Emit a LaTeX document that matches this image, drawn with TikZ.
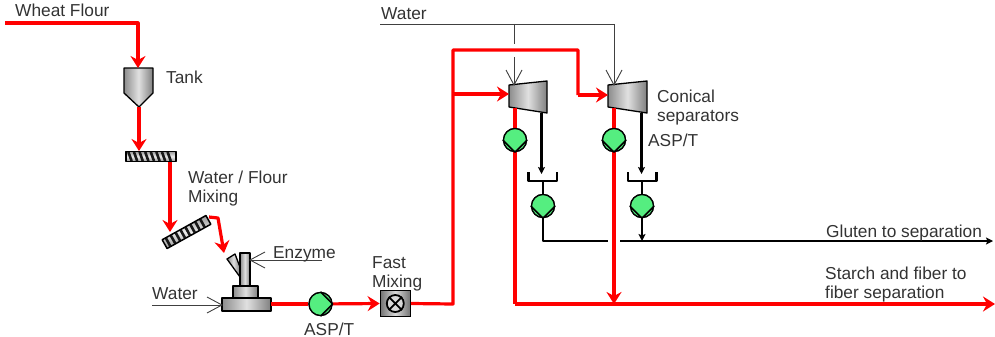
\documentclass[tikz,border=0pt]{standalone}
\usepackage{fontspec}
\setmainfont{Liberation Sans}
\usetikzlibrary{arrows.meta}
\definecolor{pumpgreen}{HTML}{55EE80}
\definecolor{txt}{HTML}{333333}
\definecolor{flow}{HTML}{FF0000}
\pgfdeclarearrow{
  name=OpenVee,
  setup code={\pgfarrowssettipend{0pt}\pgfarrowssetlineend{-0.6pt}\pgfarrowssetbackend{-15pt}\pgfarrowssetvisualbackend{-0.6pt}},
  drawing code={\pgfsetlinewidth{0.9pt}\pgfsetmiterjoin
    \pgfpathmoveto{\pgfpoint{-15pt}{8pt}}\pgfpathlineto{\pgfpointorigin}\pgfpathlineto{\pgfpoint{-15pt}{-8pt}}\pgfusepathqstroke}
}
\tikzset{
  x=1pt,y=-1pt,
  label text/.style={font=\fontsize{17.3}{19}\selectfont,text=txt,inner sep=0pt,anchor=base west,align=left},
  redline/.style={draw=flow,line width=3.2pt,line join=round},
  redarrow/.style={redline,-{Stealth[length=12pt,width=15pt,inset=4pt]}},
  blackline/.style={draw=black,line width=2.2pt,line join=round},
  blackarrow/.style={blackline,-{Stealth[length=7pt,width=7pt,inset=1.5pt]}},
  feed/.style={draw=black!75,line width=.9pt},
  feedarrow/.style={feed,-{OpenVee}},
  metal/.style={draw=black,line width=1.3pt,line join=round,left color=black!45,right color=black!50,middle color=black!12},
  pump/.style={circle,draw=black,fill=pumpgreen,minimum size=23pt,inner sep=0pt,line width=1.3pt},
  chevron/.style={draw=black,line width=1.6pt,line join=round},
  screwslant/.store in=\screwslant,
  screwslant=1.6,
  screwbody/.pic={
    \path[top color=black!40,bottom color=black!40,middle color=black!8] (-25,-5) rectangle (25,5);
    \foreach \i in {-21,-15.4,...,23}{\draw[line width=2.6pt,black!90] (\i-\screwslant,-4.5) -- (\i+\screwslant,4.5);}
    \draw[line width=1.5pt,line join=round] (-25,-5) rectangle (25,5);
  },
}
\begin{document}
\begin{tikzpicture}
\useasboundingbox (0,0) rectangle (995,337);
% named points
\coordinate (wheatstart) at (5,23);
\coordinate (wheatcorner) at (138,23);
\coordinate (tanktop) at (138,68);
\coordinate (tankbottom) at (139,107);
\coordinate (screwatop) at (139,151);
\coordinate (screwaout) at (170,162);
\coordinate (screwbin) at (170,232);
\coordinate (screwbout) at (209,217);
\coordinate (screwbcorner) at (218,218);
\coordinate (mixerin) at (224,253);
\coordinate (waterl) at (152,305);
\coordinate (mixerbase) at (222,305);
\coordinate (enzymestart) at (322,260);
\coordinate (mixercol) at (250,260);
\coordinate (mixerout) at (271,304);
\coordinate (mixedcorner) at (453,304);
\coordinate (hightop) at (453,50);
\coordinate (branch) at (453,94);
\coordinate (highright) at (578,50);
\coordinate (highdown) at (578,95);
\coordinate (sepain) at (509,94);
\coordinate (sepbin) at (608,95);
\coordinate (separed) at (515,108);
\coordinate (sepbred) at (614,108);
\coordinate (sepablack) at (541.5,113);
\coordinate (sepbblack) at (641.5,113);
\coordinate (cupatop) at (541.5,174);
\coordinate (cupbtop) at (641.5,174);
\coordinate (cupabot) at (543,181);
\coordinate (cupbbot) at (642,181);
\coordinate (glutenleft) at (543,241);
\coordinate (glutengapl) at (608,241);
\coordinate (glutengapr) at (620,241);
\coordinate (glutenjoin) at (642,241);
\coordinate (glutenend) at (993,241);
\coordinate (starchcorner) at (515,304);
\coordinate (starchmid) at (614,304);
\coordinate (starchend) at (995,304);
\coordinate (waterstart) at (380,24);
\coordinate (wateratee) at (514,24);
\coordinate (waterbtee) at (614,24);
\coordinate (watergapa) at (514,44);
\coordinate (watergapb) at (514,57);
\coordinate (sepatop) at (514,85);
\coordinate (sepbtop) at (614,85);
% equipment
\path[metal] (124,68) -- (153,68) -- (153,93) -- (139,107) -- (124,93) -- cycle;
\pic at (151,156.5) {screwbody};
\pic[rotate=29,screwslant=0] at (186.5,232) {screwbody};
\path[metal] (227,259) -- (235,254) -- (240,267) -- (240,277) -- cycle;
\path[metal] (240,253) rectangle (250,286);
\path[metal] (233,286) rectangle (258,298);
\path[metal] (222,298) rectangle (271,311);
\node[draw=black,line width=1.3pt,left color=black!55,right color=black!55,middle color=black!15,minimum width=30pt,minimum height=26pt,inner sep=0pt] (fastbox) at (395.3,303.5) {};
\node[circle,draw=black,line width=1.8pt,fill=black!15,minimum size=17pt,inner sep=0pt] (fastx) at (395.3,303.5) {};
\draw[black,line width=1.8pt] (fastx.45) -- (fastx.225) (fastx.135) -- (fastx.315);
\path[metal] (509,85) -- (547,81) -- (547,113) -- (509,107) -- cycle;
\path[metal] (608,85) -- (647,81) -- (647,113) -- (608,107) -- cycle;
% pumps
\node[pump] (pumpmain) at (320.5,304) {};
\node[pump] (pumpa) at (515,140) {};
\node[pump] (pumpb) at (614,140) {};
\node[pump] (pumpc) at (543,206) {};
\node[pump] (pumpd) at (642,206) {};
% cups
\draw[blackline] (528.5,172) -- (528.5,181) -- (557,181) -- (557,172);
\draw[blackline] (628,172) -- (628,181) -- (656.5,181) -- (656.5,172);
% thin feeds
\draw[feed] (waterstart) -- (waterbtee);
\draw[feed] (wateratee) -- (watergapa);
\draw[feedarrow] (watergapb) -- (sepatop);
\draw[feedarrow] (waterbtee) -- (sepbtop);
\draw[feedarrow] (waterl) -- (mixerbase);
\draw[feedarrow] (enzymestart) -- (mixercol);
% black flows
\draw[blackarrow] (sepablack) -- (cupatop);
\draw[blackarrow] (sepbblack) -- (cupbtop);
\draw[blackline] (cupabot) -- (pumpc);
\draw[blackline] (cupbbot) -- (pumpd);
\draw[blackline] (pumpc) -- (glutenleft) -- (glutengapl);
\draw[blackarrow] (glutengapr) -- (glutenend);
\draw[blackarrow] (pumpd) -- (glutenjoin);
% red flows
\draw[redarrow] (wheatstart) -- (wheatcorner) -- (tanktop);
\draw[redarrow] (tankbottom) -- (screwatop);
\draw[redarrow] (screwaout) -- (screwbin);
\draw[redarrow] (screwbout) -- (screwbcorner) -- (mixerin);
\draw[redline] (mixerout) -- (pumpmain);
\draw[redarrow] (pumpmain) -- (fastbox.west);
\draw[redline] (fastbox.east) -- (mixedcorner) -- (hightop) -- (highright) -- (highdown);
\draw[redarrow] (highdown) -- (sepbin);
\draw[redarrow] (branch) -- (sepain);
\draw[redline] (separed) -- (pumpa);
\draw[redline] (pumpa) -- (starchcorner);
\draw[redline] (sepbred) -- (pumpb);
\draw[redarrow,line width=3.6pt] (pumpb) -- (starchmid);
\draw[redarrow] (starchcorner) -- (starchend);
% redraw pumps on top of flows
\node[pump] at (pumpmain) {};
\node[pump] at (pumpa) {};
\node[pump] at (pumpb) {};
\node[pump] at (pumpc) {};
\node[pump] at (pumpd) {};
\draw[chevron] (pumpmain.north) -- (pumpmain.east) -- (pumpmain.south);
\draw[chevron] (pumpa.west) -- (pumpa.south) -- (pumpa.east);
\draw[chevron] (pumpb.west) -- (pumpb.south) -- (pumpb.east);
\draw[chevron] (pumpc.west) -- (pumpc.south) -- (pumpc.east);
\draw[chevron] (pumpd.west) -- (pumpd.south) -- (pumpd.east);
% labels
\node[label text] (lwheat) at (15,17) {Wheat Flour};
\node[label text] (ltank) at (166,83) {Tank};
\node[label text] (lmix1) at (188,183.5) {Water / Flour};
\node[label text] (lmix2) at (188,202) {Mixing};
\node[label text] (lenz) at (273,258) {Enzyme};
\node[label text] (lwater) at (152,299) {Water};
\node[label text] (lasp) at (304,335) {ASP/T};
\node[label text] (lfast1) at (372,268) {Fast};
\node[label text] (lfast2) at (372,287) {Mixing};
\node[label text] (lwatertop) at (381,20) {Water};
\node[label text] (lcon1) at (657,102) {Conical};
\node[label text] (lcon2) at (657,121) {separators};
\node[label text] (lasp2) at (648,146) {ASP/T};
\node[label text] (lgluten) at (826,237) {Gluten to separation};
\node[label text] (lst1) at (825,279) {Starch and fiber to};
\node[label text] (lst2) at (825,298) {fiber separation};
\end{tikzpicture}
\end{document}
